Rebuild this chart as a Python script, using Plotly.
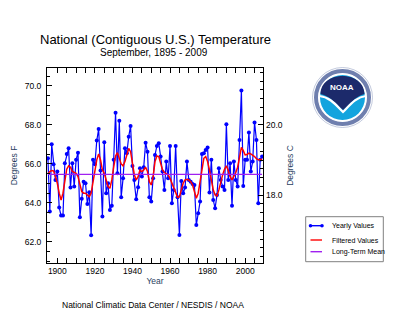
import plotly.graph_objects as go

years = list(range(1895, 2010))
yearly_f = [
    66.29, 63.56, 67.01, 65.98, 65.18,
    65.61, 63.76, 63.35, 63.35, 66.03,
    66.51, 66.80, 64.79, 66.03, 64.84,
    66.21, 66.58, 63.26, 64.21, 65.09,
    65.01, 63.95, 64.55, 62.34, 66.21,
    65.98, 67.20, 67.79, 65.66, 63.30,
    67.11, 64.50, 65.01, 63.64, 63.85,
    66.21, 68.63, 65.52, 68.22, 64.29,
    65.26, 66.80, 66.55, 67.40, 67.95,
    65.90, 65.18, 64.19, 64.80, 65.78,
    65.35, 65.83, 67.09, 66.63, 64.29,
    64.07, 65.26, 66.46, 66.92, 67.06,
    66.38, 65.61, 64.67, 66.12, 65.26,
    66.92, 63.98, 64.67, 66.92, 64.29,
    62.36, 65.13, 64.50, 64.79, 66.12,
    65.18, 65.09, 64.97, 64.92, 62.87,
    63.47, 64.07, 66.51, 66.55, 66.72,
    66.84, 64.53, 66.21, 64.15, 63.73,
    64.41, 65.78, 65.18, 64.84, 64.67,
    68.03, 65.18, 66.03, 63.86, 66.12,
    65.18, 64.84, 67.23, 69.76, 64.87,
    66.21, 66.21, 67.61, 65.61, 66.12,
    68.12, 67.23, 63.98, 66.21, 66.38,
]
filtered_f = [
    65.49, 65.61, 65.66, 65.64, 65.35,
    65.01, 64.50, 64.15, 64.50, 65.18,
    65.73, 65.90, 65.83, 65.61, 65.56,
    65.52, 65.35, 64.92, 64.58, 64.50,
    64.50, 64.41, 64.32, 64.50, 65.01,
    65.52, 66.21, 66.51, 66.21, 65.69,
    65.52, 65.18, 64.84, 64.75, 65.18,
    65.83, 66.41, 66.58, 66.34, 66.00,
    65.90, 66.12, 66.46, 66.80, 66.63,
    66.03, 65.44, 65.18, 65.35, 65.69,
    65.61, 65.69, 65.83, 65.61, 65.09,
    64.92, 65.35, 66.12, 66.41, 66.38,
    66.03, 65.69, 65.56, 65.52, 65.44,
    65.26, 65.01, 64.80, 64.58, 64.29,
    64.32, 64.67, 65.01, 65.18, 65.21,
    65.18, 65.09, 64.92, 64.50, 64.24,
    64.50, 65.18, 65.86, 66.29, 66.38,
    66.12, 65.69, 65.18, 64.67, 64.41,
    64.36, 64.67, 65.09, 65.44, 65.73,
    65.90, 65.66, 65.35, 65.18, 65.35,
    65.56, 65.83, 66.46, 66.85, 66.68,
    66.46, 66.48, 66.55, 66.51, 66.46,
    66.38, 66.27, 66.21, 66.21, 66.26,
]
long_term_mean_f = 65.47
f_range = [60.92, 70.92]
legend_labels = ["Yearly Values", "Filtered Values", "Long-Term Mean"]

BLUE = "#0000ff"
RED = "#ff0000"
PURPLE = "#a020f0"
FONT = "Liberation Sans, Arial, sans-serif"

W, H = 400, 329
L, R, T, B = 47, 263, 68, 263


def px(x):
    return (x - L) / (R - L)


def py(y):
    return (B - y) / (B - T)


fig = go.Figure()
fig.add_trace(go.Scatter(x=years, y=yearly_f, mode="lines+markers",
                         line=dict(color=BLUE, width=1.2),
                         marker=dict(color=BLUE, size=4, symbol="circle"),
                         name=legend_labels[0], showlegend=False))
fig.add_trace(go.Scatter(x=years, y=filtered_f, mode="lines",
                         line=dict(color=RED, width=1.5),
                         name=legend_labels[1], showlegend=False))
fig.add_trace(go.Scatter(x=[years[0], years[-1]], y=[long_term_mean_f] * 2, mode="lines",
                         line=dict(color=PURPLE, width=1.3),
                         name=legend_labels[2], showlegend=False))
# invisible trace to drive the Celsius axis
c_range = [(v - 32) / 1.8 for v in f_range]
fig.add_trace(go.Scatter(x=[years[0]], y=[c_range[0]], yaxis="y2", mode="markers",
                         marker=dict(opacity=0), showlegend=False, hoverinfo="skip"))

tickfont = dict(family=FONT, size=8.5, color="black")
fig.update_layout(
    width=W, height=H,
    margin=dict(l=L, r=W - R, t=T, b=H - B),
    paper_bgcolor="white", plot_bgcolor="white",
    showlegend=False,
    xaxis=dict(range=[1894.5, 2009.5], tick0=1900, dtick=20, ticks="inside", ticklen=5,
               tickcolor="black", showline=True, linecolor="black", linewidth=1,
               mirror="ticks", showgrid=False, zeroline=False, tickfont=tickfont,
               minor=dict(dtick=5, ticks="inside", ticklen=5, tickcolor="black", showgrid=False),
               title=dict(text="Year", font=dict(family=FONT, size=8.5), standoff=2)),
    yaxis=dict(range=f_range, tick0=0, dtick=2, tickformat=".1f", ticks="inside", ticklen=5,
               tickcolor="black", showline=True, linecolor="black", linewidth=1,
               mirror=True, showgrid=False, zeroline=False, tickfont=tickfont,
               ticklabelstandoff=3,
               minor=dict(dtick=0.5, ticks="inside", ticklen=3, tickcolor="black", showgrid=False),
               title=dict(text="Degrees F", font=dict(family=FONT, size=8.5), standoff=5)),
    yaxis2=dict(range=c_range, overlaying="y", side="right", tick0=0, dtick=2,
                tickformat=".1f", ticks="inside", ticklen=5, tickcolor="black",
                showgrid=False, zeroline=False, tickfont=tickfont, ticklabelstandoff=2,
                minor=dict(dtick=0.25, ticks="inside", ticklen=3, tickcolor="black", showgrid=False),
                title=dict(text="Degrees C", font=dict(family=FONT, size=8.5), standoff=5)),
)

ann = []
ann.append(dict(text="National (Contiguous U.S.) Temperature", x=px(155), y=py(39),
                font=dict(family=FONT, size=13, color="black")))
ann.append(dict(text="September, 1895 - 2009", x=px(154), y=py(52.5),
                font=dict(family=FONT, size=10, color="black")))
ann.append(dict(text="National Climatic Data Center / NESDIS / NOAA", x=px(153), y=py(305),
                font=dict(family=FONT, size=8.5, color="black")))

# manual legend
shapes = []
shapes.append(dict(type="rect", xref="paper", yref="paper", x0=px(305.7), x1=px(383.3),
                   y0=py(261.7), y1=py(216.7), line=dict(color="#808080", width=1),
                   fillcolor="white", layer="above"))
leg_y = [225.7, 240, 251.7]
leg_col = [BLUE, RED, PURPLE]
for i, lab in enumerate(legend_labels):
    shapes.append(dict(type="line", xref="paper", yref="paper", x0=px(310.5), x1=px(322),
                       y0=py(leg_y[i]), y1=py(leg_y[i]), line=dict(color=leg_col[i], width=1.4),
                       layer="above"))
    ann.append(dict(text=lab, x=px(330), y=py(leg_y[i]), xanchor="left",
                    font=dict(family=FONT, size=7, color="black")))
for mx in (310.5, 322):
    shapes.append(dict(type="circle", xref="paper", yref="paper", x0=px(mx - 1.8), x1=px(mx + 1.8),
                       y0=py(leg_y[0] + 1.8), y1=py(leg_y[0] - 1.8), fillcolor=BLUE,
                       line=dict(width=0), layer="above"))

# NOAA logo (decorative)
cx, cy = 342.5, 97.5
def circ(r, **kw):
    return dict(type="circle", xref="paper", yref="paper", x0=px(cx - r), x1=px(cx + r),
                y0=py(cy + r), y1=py(cy - r), layer="above", **kw)
shapes.append(circ(30, fillcolor="white", line=dict(color="#9aa6c6", width=0.6)))
shapes.append(circ(26.5, fillcolor="rgba(0,0,0,0)", line=dict(color="#6f7fae", width=4)))
shapes.append(circ(24, fillcolor="white", line=dict(width=0)))
shapes.append(circ(22.5, fillcolor="#13a4de", line=dict(width=0)))
def P(x, y):
    return f"{px(x):.5f},{py(y):.5f}"
navy = ("M " + P(320.5, 94) + " C " + P(321, 70) + " " + P(364, 70) + " " + P(364.5, 94)
        + " C " + P(356, 96) + " " + P(350, 104) + " " + P(343, 110)
        + " C " + P(336, 104) + " " + P(330, 96) + " " + P(320.5, 94) + " Z")
shapes.append(dict(type="path", xref="paper", yref="paper", path=navy, fillcolor="#1c2a6b",
                   line=dict(width=0), layer="above"))
gull = ("M " + P(319, 96) + " C " + P(330, 97) + " " + P(336, 105) + " " + P(343, 112)
        + " C " + P(350, 105) + " " + P(356, 97) + " " + P(366, 96))
shapes.append(dict(type="path", xref="paper", yref="paper", path=gull,
                   line=dict(color="white", width=2.2), layer="above"))
ann.append(dict(text="<b>NOAA</b>", x=px(342), y=py(87.5),
                font=dict(family=FONT, size=8, color="white")))

for a in ann:
    a.setdefault("xref", "paper")
    a.setdefault("yref", "paper")
    a.setdefault("showarrow", False)
    a.setdefault("xanchor", "center")
    a.setdefault("yanchor", "middle")
fig.update_layout(annotations=ann, shapes=shapes)

fig.write_html("out.html")
